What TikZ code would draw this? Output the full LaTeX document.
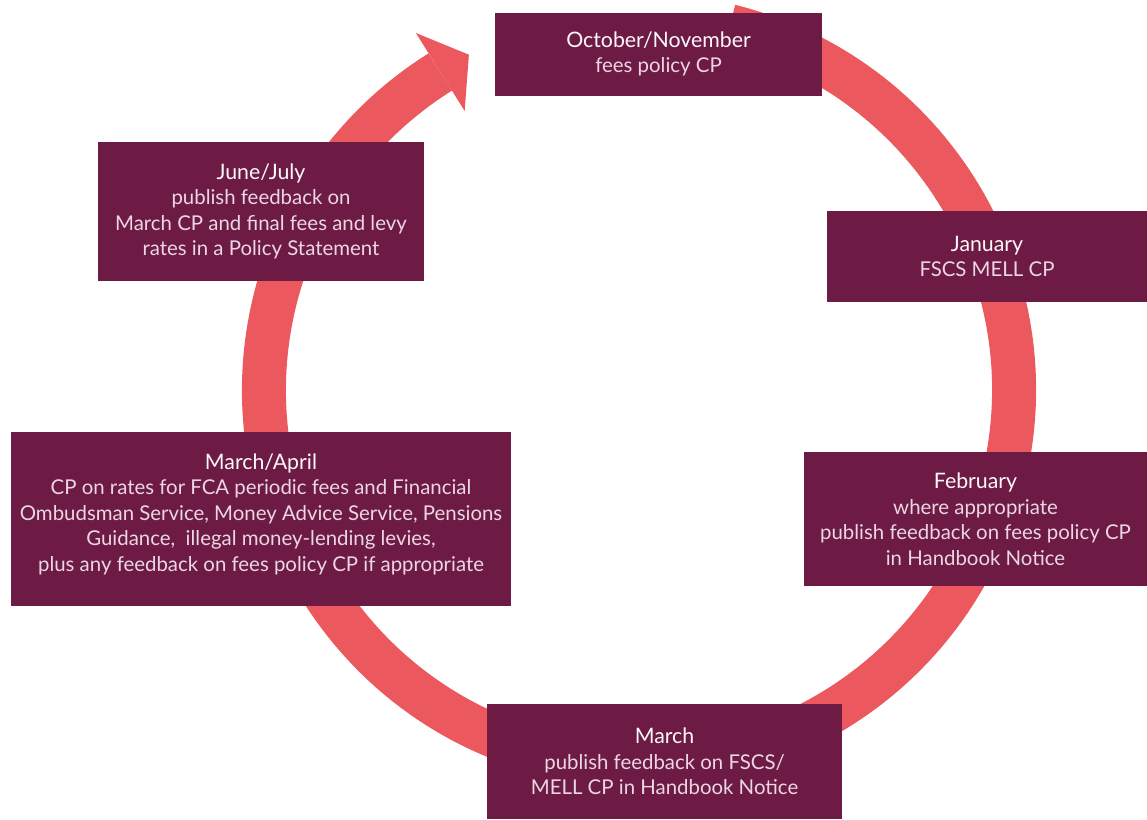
\documentclass[tikz,border=0pt]{standalone}
\usepackage{fontspec}
\setmainfont{Lato}
\usetikzlibrary{calc}
\definecolor{boxfill}{RGB}{109,27,69}
\definecolor{ringcol}{RGB}{235,89,95}
\definecolor{titlecol}{RGB}{252,248,250}
\definecolor{bodycol}{RGB}{236,214,225}
\tikzset{
  stagebox/.style={fill=boxfill, inner sep=0pt, align=center, font=\fontsize{20.4}{25.5}\selectfont, text=bodycol},
}
\newcommand{\ttl}[1]{{\fontsize{21.3}{25.5}\selectfont\color{titlecol}#1}}
\begin{document}
\begin{tikzpicture}[x=1pt,y=1pt]
\useasboundingbox (0,0) rectangle (1147,-819);
\coordinate (c) at (639,-390);
% ring
\draw[ringcol, line width=44pt] ($(c)+(76:375)$) arc[start angle=76, end angle=-238, radius=375];
\fill[ringcol] ($(c)+(122:329)$) -- ($(c)+(122:421)$) -- ($(c)+(116.9:376)$) -- cycle;
% boxes
\node[stagebox, minimum width=327pt, minimum height=83pt] (oct) at (658.5,-54)
  {\ttl{October/November}\\fees policy CP};
\node[stagebox, minimum width=326pt, minimum height=139pt] (jun) at (261,-211.5)
  {\ttl{June/July}\\publish feedback on\\March CP and final fees and levy\\rates in a Policy Statement};
\node[stagebox, minimum width=320pt, minimum height=91pt] (jan) at (987,-256.5)
  {\ttl{January}\\FSCS MELL CP};
\node[stagebox, minimum width=343pt, minimum height=134pt] (feb) at (975.5,-519)
  {\ttl{February}\\where appropriate\\publish feedback on fees policy CP\\in Handbook Notice};
\node[stagebox, minimum width=500pt, minimum height=174pt] (mara) at (261,-519)
  {\ttl{March/April}\\CP on rates for FCA periodic fees and Financial\\Ombudsman Service, Money Advice Service, Pensions\\Guidance,\ \ illegal money-lending levies,\\plus any feedback on fees policy CP if appropriate\\[-12pt]};
\node[stagebox, minimum width=355pt, minimum height=115pt] (mar) at (664.5,-761.5)
  {\ttl{March}\\publish feedback on FSCS/\\MELL CP in Handbook Notice};
\end{tikzpicture}
\end{document}
